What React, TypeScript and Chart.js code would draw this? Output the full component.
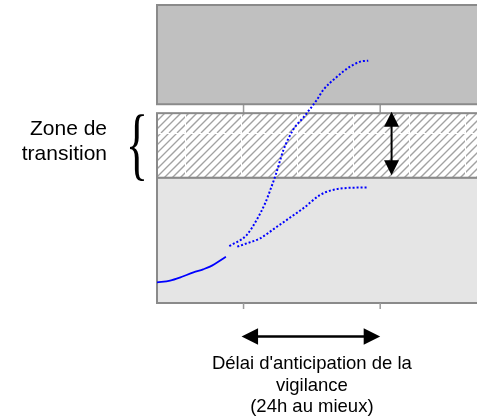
import { useEffect, useRef } from 'react';
import { Chart, registerables } from 'chart.js';

Chart.register(...registerables);

// x: hours relative to the start of the anticipation window; y: index 0..100
const xTicks = [0, 24];
const observedX = [-15.2, -12.9, -11.2, -8.8, -7.1, -5.9, -3.1];
const observedY = [6.9, 7.5, 8.5, 10.3, 11.3, 12.2, 15.5];
const upperX = [-2.5, 0.55, 2.3, 3.8, 4.9, 5.7, 7.0, 8.7, 10.6, 12.85, 14.0, 16.4, 18.7, 20.5, 21.9];
const upperY = [19.1, 22.8, 27.9, 33.5, 39.0, 43.3, 51.3, 58.1, 62.5, 68.1, 71.5, 75.9, 79.3, 81.0, 81.3];
const lowerX = [-1.1, 0.55, 2.9, 5.5, 7.6, 10.5, 13.4, 15.2, 17.5, 21.9];
const lowerY = [18.9, 20.0, 21.7, 25.1, 27.9, 31.8, 36.2, 37.7, 38.5, 38.8];
const bandHigh = [66.7, 100];
const bandTransition = [42, 63.7];
const bandLow = [0, 42];
const transitionLabel = ['Zone de', 'transition'];
const delayLabel = ["Délai d'anticipation de la", 'vigilance', '(24h au mieux)'];
const delayRange = [0, 24];
const transitionArrowX = 26;

const BORDER = '#8a8a8a';

function makeHatch(): CanvasPattern | string {
  const T = 56;
  const t = document.createElement('canvas');
  t.width = T;
  t.height = T;
  const c = t.getContext('2d');
  if (!c) return '#ffffff';
  c.fillStyle = '#ffffff';
  c.fillRect(0, 0, T, T);
  c.save();
  c.beginPath();
  c.rect(1, 1, T - 1, T - 1);
  c.clip();
  c.strokeStyle = '#a2a2a2';
  c.lineWidth = 1.3;
  for (let k = -8; k <= 16; k++) {
    c.beginPath();
    c.moveTo(k * 8, T);
    c.lineTo(k * 8 + T, 0);
    c.stroke();
  }
  c.restore();
  const p = c.createPattern(t, 'repeat') as CanvasPattern;
  if (p && typeof DOMMatrix !== 'undefined') {
    p.setTransform(new DOMMatrix().translate(185 - 4 * T, 133 - 3 * T));
  }
  return p;
}

function arrowHead(ctx: CanvasRenderingContext2D, tx: number, ty: number, dx: number, dy: number, len: number, half: number) {
  const bx = tx - dx * len;
  const by = ty - dy * len;
  ctx.beginPath();
  ctx.moveTo(tx, ty);
  ctx.lineTo(bx - dy * half, by + dx * half);
  ctx.lineTo(bx + dy * half, by - dx * half);
  ctx.closePath();
  ctx.fill();
}

const decorPlugin = {
  id: 'decor',
  beforeDatasetsDraw(chart: any) {
    const { ctx, chartArea, scales } = chart;
    const xs = scales.x;
    const ys = scales.y;
    const L = chartArea.left;
    const R = chart.width + 60;
    ctx.save();
    ctx.strokeStyle = '#9a9a9a';
    ctx.lineWidth = 1.5;
    xTicks.forEach((v) => {
      const px = xs.getPixelForValue(v);
      ctx.beginPath();
      ctx.moveTo(px, chartArea.top);
      ctx.lineTo(px, chartArea.bottom);
      ctx.stroke();
    });
    const box = (band: number[], fill: any) => {
      const yTop = ys.getPixelForValue(band[1]);
      const yBot = ys.getPixelForValue(band[0]);
      ctx.fillStyle = fill;
      ctx.fillRect(L, yTop, R - L, yBot - yTop);
      ctx.strokeStyle = BORDER;
      ctx.lineWidth = 2;
      ctx.strokeRect(L, yTop, R - L, yBot - yTop);
    };
    box(bandHigh, '#c0c0c0');
    box(bandTransition, makeHatch());
    box(bandLow, '#e5e5e5');
    ctx.restore();
  },
  afterDraw(chart: any) {
    const { ctx, chartArea, scales } = chart;
    const xs = scales.x;
    const ys = scales.y;
    ctx.save();
    ctx.strokeStyle = '#9a9a9a';
    ctx.lineWidth = 1.5;
    xTicks.forEach((v) => {
      const px = xs.getPixelForValue(v);
      ctx.beginPath();
      ctx.moveTo(px, chartArea.bottom);
      ctx.lineTo(px, chartArea.bottom + 6);
      ctx.stroke();
    });
    ctx.fillStyle = '#000000';
    ctx.strokeStyle = '#000000';
    const ax = xs.getPixelForValue(transitionArrowX);
    const aTop = ys.getPixelForValue(bandTransition[1]) - 1.5;
    const aBot = ys.getPixelForValue(bandTransition[0]) - 2.5;
    ctx.lineWidth = 2;
    ctx.beginPath();
    ctx.moveTo(ax, aTop + 10);
    ctx.lineTo(ax, aBot - 10);
    ctx.stroke();
    arrowHead(ctx, ax, aTop, 0, -1, 15, 7.5);
    arrowHead(ctx, ax, aBot, 0, 1, 15, 7.5);
    const hy = 336.5;
    const hl = xs.getPixelForValue(delayRange[0]) - 2;
    const hr = xs.getPixelForValue(delayRange[1]);
    ctx.lineWidth = 2.5;
    ctx.beginPath();
    ctx.moveTo(hl + 10, hy);
    ctx.lineTo(hr - 10, hy);
    ctx.stroke();
    arrowHead(ctx, hl, hy, -1, 0, 16.5, 8.3);
    arrowHead(ctx, hr, hy, 1, 0, 16.5, 8.3);
    ctx.font = '18.5px "Liberation Sans", Arial, sans-serif';
    ctx.textAlign = 'center';
    ctx.textBaseline = 'alphabetic';
    const cx = (hl + hr) / 2 + 1;
    delayLabel.forEach((line, i) => {
      ctx.fillText(line, cx, 369 + i * 21.5);
    });
    ctx.font = '21px "Liberation Sans", Arial, sans-serif';
    ctx.textAlign = 'right';
    transitionLabel.forEach((line, i) => {
      ctx.fillText(line, 107, 135 + i * 25);
    });
    ctx.font = '100px "Liberation Serif", "DejaVu Serif", serif';
    ctx.textAlign = 'left';
    const m = ctx.measureText('{');
    const inkW = m.actualBoundingBoxLeft + m.actualBoundingBoxRight;
    const inkH = m.actualBoundingBoxAscent + m.actualBoundingBoxDescent;
    const bx0 = 130, bx1 = 144, by0 = 113, by1 = 180;
    const sx = (bx1 - bx0) / inkW;
    const sy = (by1 - by0) / inkH;
    ctx.save();
    ctx.translate(bx0, by0);
    ctx.scale(sx, sy);
    ctx.fillText('{', m.actualBoundingBoxLeft, m.actualBoundingBoxAscent);
    ctx.restore();
    ctx.restore();
  },
};

export default function App() {
  const ref = useRef<HTMLCanvasElement>(null);
  useEffect(() => {
    if (!ref.current) return;
    const chart = new Chart(ref.current, {
      type: 'line',
      data: {
        datasets: [
          {
            data: observedX.map((x, i) => ({ x, y: observedY[i] })),
            borderColor: '#0000ff',
            borderWidth: 1.8,
            pointRadius: 0,
            cubicInterpolationMode: 'monotone',
          },
          {
            data: upperX.map((x, i) => ({ x, y: upperY[i] })),
            borderColor: '#0000ff',
            borderWidth: 2,
            borderDash: [2, 2],
            pointRadius: 0,
            cubicInterpolationMode: 'monotone',
          },
          {
            data: lowerX.map((x, i) => ({ x, y: lowerY[i] })),
            borderColor: '#0000ff',
            borderWidth: 2,
            borderDash: [2, 2],
            pointRadius: 0,
            cubicInterpolationMode: 'monotone',
          },
        ],
      },
      options: {
        responsive: false,
        animation: false,
        events: [],
        layout: { padding: { left: 157, top: 5, right: 0, bottom: 117 } },
        scales: {
          x: { type: 'linear', min: -15.2, max: 41, display: false },
          y: { type: 'linear', min: 0, max: 100, display: false },
        },
        plugins: { legend: { display: false }, tooltip: { enabled: false } },
      },
      plugins: [decorPlugin],
    });
    return () => chart.destroy();
  }, []);
  return (
    <div style={{ position: 'absolute', left: 0, top: 0, width: 477, height: 420, overflow: 'hidden', background: '#fff' }}>
      <canvas ref={ref} width={477} height={420} style={{ display: 'block', width: 477, height: 420 }} />
    </div>
  );
}
